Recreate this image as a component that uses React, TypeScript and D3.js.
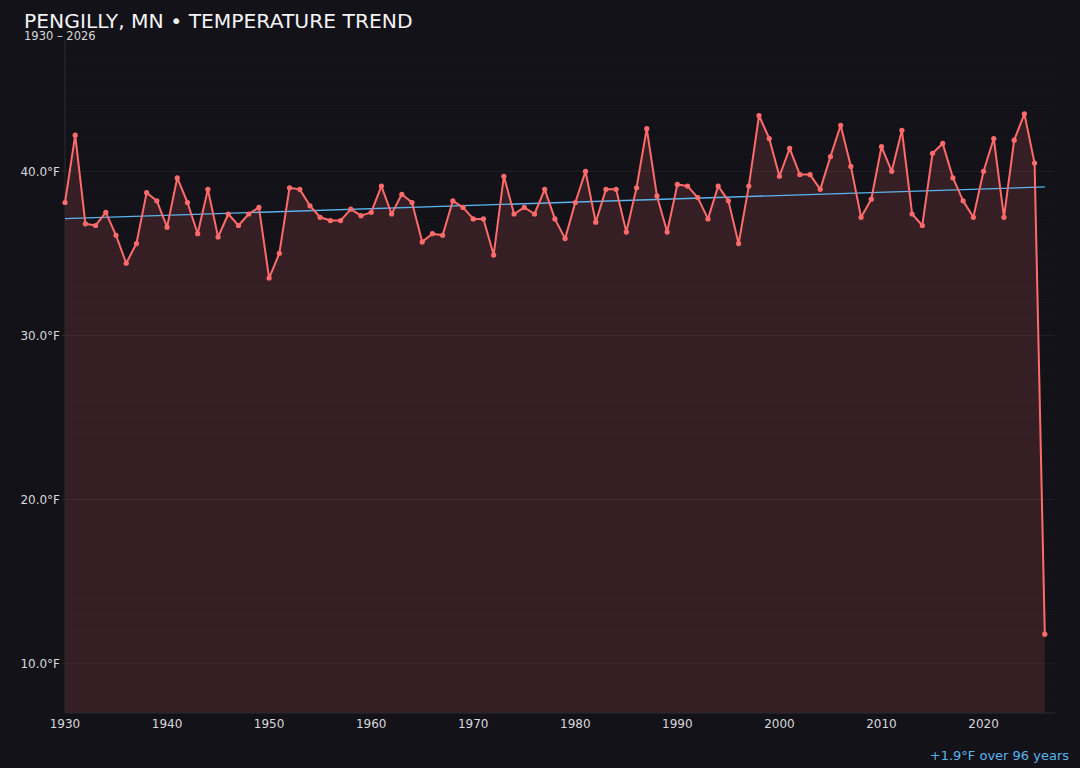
import React from "react";
import * as d3 from "d3";

const years: number[] = d3.range(1930, 2027);
const temps: number[] = [
  38.1, 42.2, 36.8, 36.7, 37.5, 36.1, 34.4, 35.6, 38.7, 38.2,
  36.6, 39.6, 38.1, 36.2, 38.9, 36.0, 37.4, 36.7, 37.4, 37.8,
  33.5, 35.0, 39.0, 38.9, 37.9, 37.2, 37.0, 37.0, 37.7, 37.3,
  37.5, 39.1, 37.4, 38.6, 38.1, 35.7, 36.2, 36.1, 38.2, 37.8,
  37.1, 37.1, 34.9, 39.7, 37.4, 37.8, 37.4, 38.9, 37.1, 35.9,
  38.1, 40.0, 36.9, 38.9, 38.9, 36.3, 39.0, 42.6, 38.5, 36.3,
  39.2, 39.1, 38.4, 37.1, 39.1, 38.2, 35.6, 39.1, 43.4, 42.0,
  39.7, 41.4, 39.8, 39.8, 38.9, 40.9, 42.8, 40.3, 37.2, 38.3,
  41.5, 40.0, 42.5, 37.4, 36.7, 41.1, 41.7, 39.6, 38.2, 37.2,
  40.0, 42.0, 37.2, 41.9, 43.5, 40.5, 11.8,
];
const trendYears: number[] = [1930, 2026];
const trendValues: number[] = [37.12, 39.05];
const yTicks: number[] = [10, 20, 30, 40];
const xTicks: number[] = d3.range(1930, 2021, 10);
const minorTicks: number[] = d3.range(8, 49, 1);

const title = "PENGILLY, MN • TEMPERATURE TREND";
const subtitle = "1930 – 2026";
const note = "+1.9°F over 96 years";

const W = 1080;
const H = 768;
const left = 65;
const right = 1055;
const top = 40;
const bottom = 713;

export default function App() {
  const x = d3.scaleLinear().domain([1930, 2027]).range([left, right]);
  const y = d3.scaleLinear().domain([7, 48]).range([bottom, top]);
  const data = years.map((yr, i) => ({ yr, v: temps[i] }));
  const line = d3.line<{ yr: number; v: number }>().x((d) => x(d.yr)).y((d) => y(d.v));
  const area = d3
    .area<{ yr: number; v: number }>()
    .x((d) => x(d.yr))
    .y0(bottom)
    .y1((d) => y(d.v));
  const font = "'DejaVu Sans', sans-serif";
  return (
    <div style={{ position: "fixed", left: 0, top: 0, width: W, height: H, background: "#131218" }}>
      <svg width={W} height={H} style={{ display: "block", fontFamily: font }}>
        <rect x={0} y={0} width={W} height={H} fill="#131218" />
        {minorTicks.map((t) => (
          <line key={"m" + t} x1={left} x2={right} y1={y(t)} y2={y(t)} stroke="#ffffff" strokeOpacity={0.018} />
        ))}
        {yTicks.map((t) => (
          <line key={"g" + t} x1={left} x2={right} y1={y(t)} y2={y(t)} stroke="#ffffff" strokeOpacity={0.05} />
        ))}
        <path d={area(data) || ""} fill="#ff6b6b" fillOpacity={0.15} />
        <line x1={left} x2={left} y1={top} y2={bottom} stroke="#2a2a31" />
        <line x1={left} x2={right} y1={bottom} y2={bottom} stroke="#2a2a31" />
        <line
          x1={x(trendYears[0])}
          x2={x(trendYears[1])}
          y1={y(trendValues[0])}
          y2={y(trendValues[1])}
          stroke="#5ab4ee"
          strokeWidth={1.3}
        />
        <path d={line(data) || ""} fill="none" stroke="#ff6b6b" strokeWidth={2} strokeLinejoin="round" />
        {data.map((d) => (
          <circle key={d.yr} cx={x(d.yr)} cy={y(d.v)} r={2.6} fill="#ff6b6b" />
        ))}
        {yTicks.map((t) => (
          <g key={"yt" + t}>
            <line x1={left - 3} x2={left} y1={y(t)} y2={y(t)} stroke="#2a2a31" />
            <text x={left - 5} y={y(t)} dy="0.35em" textAnchor="end" fontSize={12} fill="#d8d8dc">
              {t.toFixed(1) + "°F"}
            </text>
          </g>
        ))}
        {xTicks.map((t) => (
          <text key={"xt" + t} x={x(t)} y={bottom + 15} textAnchor="middle" fontSize={12} fill="#d8d8dc">
            {t}
          </text>
        ))}
        <text x={24} y={27.5} fontSize={20.3} fill="#f4f4f6">
          {title}
        </text>
        <text x={24} y={39.5} fontSize={11.5} fill="#d8d8dc">
          {subtitle}
        </text>
        <text x={1069} y={760} textAnchor="end" fontSize={13} fill="#5ab4ee">
          {note}
        </text>
      </svg>
    </div>
  );
}
